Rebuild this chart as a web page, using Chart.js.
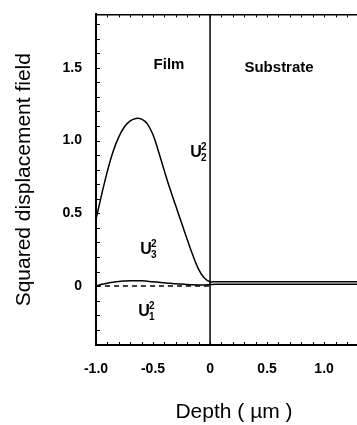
<!DOCTYPE html>
<html>
<head>
<meta charset="utf-8">
<script src="https://cdn.jsdelivr.net/npm/chart.js@4"></script>
<style>
  html, body { margin: 0; padding: 0; background: #fff; overflow: hidden; }
</style>
</head>
<body>
<canvas id="chart" width="372" height="425"></canvas>
<script>
// depth in µm (film from -1 to 0, substrate beyond 0)
const depth = [-1.0, -0.95, -0.9, -0.85, -0.8, -0.75, -0.7, -0.65, -0.6, -0.55, -0.5,
               -0.45, -0.4, -0.35, -0.3, -0.25, -0.2, -0.15, -0.1, -0.05, 0.0,
               0.05, 0.5, 1.0, 1.42];
const u2 = [0.46, 0.63, 0.79, 0.925, 1.025, 1.095, 1.135, 1.152, 1.147, 1.115, 1.04,
            0.92, 0.79, 0.665, 0.55, 0.435, 0.32, 0.21, 0.115, 0.055, 0.03,
            0.03, 0.03, 0.03, 0.03];
const u3 = [0.0, 0.012, 0.02, 0.027, 0.032, 0.035, 0.037, 0.037, 0.036, 0.033, 0.03,
            0.026, 0.022, 0.019, 0.016, 0.014, 0.011, 0.009, 0.008, 0.008, 0.01,
            0.012, 0.012, 0.012, 0.012];
const u1 = [0, 0, 0, 0, 0, 0, 0, 0, 0, 0, 0,
            0, 0, 0, 0, 0, 0, 0, 0, 0, 0,
            null, null, null, null];

const xTicks = [-1.0, -0.5, 0, 0.5, 1.0];
const xTickLabels = ['-1.0', '-0.5', '0', '0.5', '1.0'];
const yTicks = [0, 0.5, 1.0, 1.5];
const yTickLabels = ['0', '0.5', '1.0', '1.5'];

const interfaceDepth = 0;
const xMin = -1.0, xMax = 1.42;
const yMin = -0.405, yMax = 1.867;

const FONT = "'Liberation Sans', Arial, sans-serif";

function points(ys) {
    return depth.map((d, i) => ({ x: d, y: ys[i] }));
}

// interface line and small inward ticks on the frame
const frameTicks = {
    id: 'frameTicks',
    afterDraw(chart) {
        const { ctx, chartArea: a, scales: { x, y } } = chart;
        ctx.save();
        ctx.strokeStyle = '#000';
        ctx.lineWidth = 1.5;
        const x0 = x.getPixelForValue(interfaceDepth);
        ctx.beginPath();
        ctx.moveTo(x0, a.top);
        ctx.lineTo(x0, a.bottom);
        ctx.stroke();

        ctx.lineWidth = 1;
        ctx.beginPath();
        for (let i = 0; i <= 30; i++) {
            const v = -1 + i * 0.1;
            if (v > x.max) break;
            const px = Math.round(x.getPixelForValue(v)) + 0.5;
            ctx.moveTo(px, a.top);
            ctx.lineTo(px, a.top + 3);
            ctx.moveTo(px, a.bottom);
            ctx.lineTo(px, a.bottom - 3);
        }
        for (let i = 0; i <= 30; i++) {
            const v = -0.4 + i * 0.1;
            if (v > y.max) break;
            const py = Math.round(y.getPixelForValue(v)) + 0.5;
            ctx.moveTo(a.left, py);
            ctx.lineTo(a.left + 4, py);
        }
        ctx.stroke();
        ctx.restore();
    }
};

// region names and curve labels
const textLabels = {
    id: 'textLabels',
    afterDraw(chart, args, opts) {
        const { ctx, scales: { x, y } } = chart;
        ctx.save();
        ctx.fillStyle = '#000';
        ctx.textBaseline = 'middle';
        ctx.textAlign = 'center';
        ctx.font = 'bold 15px ' + FONT;
        opts.regions.forEach(r => {
            ctx.fillText(r.text, x.getPixelForValue(r.x), y.getPixelForValue(r.y));
        });
        opts.curves.forEach(c => {
            const px = x.getPixelForValue(c.x);
            const py = y.getPixelForValue(c.y);
            ctx.textAlign = 'center';
            ctx.font = 'bold 16px ' + FONT;
            ctx.fillText('U', px, py);
            ctx.textAlign = 'left';
            ctx.font = 'bold 10px ' + FONT;
            ctx.fillText('2', px + 5, py - 6);
            ctx.fillText(c.sub, px + 5, py + 5);
        });
        ctx.restore();
    }
};

const lineStyle = {
    borderColor: '#000',
    borderWidth: 1.5,
    pointRadius: 0,
    fill: false,
    tension: 0.4
};

new Chart(document.getElementById('chart'), {
    type: 'line',
    data: {
        datasets: [
            { label: 'U2^2', data: points(u2), ...lineStyle },
            { label: 'U3^2', data: points(u3), ...lineStyle },
            { label: 'U1^2', data: points(u1), ...lineStyle, borderDash: [5, 4], spanGaps: false }
        ]
    },
    options: {
        responsive: false,
        animation: false,
        events: [],
        layout: { padding: { top: 11, left: 0, right: 0, bottom: 0 } },
        plugins: {
            legend: { display: false },
            tooltip: { enabled: false },
            textLabels: {
                regions: [
                    { text: 'Film', x: -0.36, y: 1.52 },
                    { text: 'Substrate', x: 0.605, y: 1.5 }
                ],
                curves: [
                    { sub: '2', x: -0.123, y: 0.915 },
                    { sub: '3', x: -0.561, y: 0.248 },
                    { sub: '1', x: -0.579, y: -0.177 }
                ]
            }
        },
        scales: {
            x: {
                type: 'linear',
                position: 'bottom',
                min: xMin,
                max: xMax,
                afterBuildTicks: s => { s.ticks = xTicks.map(v => ({ value: v })); },
                afterFit: s => { s.height = 80; },
                grid: { display: false },
                border: { display: true, color: '#000', width: 2 },
                ticks: {
                    color: '#000',
                    padding: 8,
                    maxRotation: 0,
                    font: { family: FONT, size: 14, weight: 'bold' },
                    callback: v => xTickLabels[xTicks.indexOf(v)]
                },
                title: {
                    display: true,
                    text: 'Depth ( \u00b5m )',
                    color: '#000',
                    padding: { top: 0, bottom: 0 },
                    font: { family: FONT, size: 21 }
                }
            },
            xTop: {
                type: 'linear',
                position: 'top',
                min: xMin,
                max: xMax,
                afterFit: s => { s.height = 0; },
                grid: { display: false },
                ticks: { display: false },
                border: { display: true, color: '#000', width: 1.5 }
            },
            y: {
                type: 'linear',
                min: yMin,
                max: yMax,
                afterBuildTicks: s => { s.ticks = yTicks.map(v => ({ value: v })); },
                afterFit: s => { s.width = 96; },
                grid: { display: false },
                border: { display: true, color: '#000', width: 2 },
                ticks: {
                    color: '#000',
                    padding: 6,
                    font: { family: FONT, size: 14, weight: 'bold' },
                    callback: v => yTickLabels[yTicks.indexOf(v)]
                },
                title: {
                    display: true,
                    text: 'Squared displacement field',
                    color: '#000',
                    padding: { top: 12, bottom: 0 },
                    font: { family: FONT, size: 21 }
                }
            }
        }
    },
    plugins: [frameTicks, textLabels]
});
</script>
</body>
</html>
